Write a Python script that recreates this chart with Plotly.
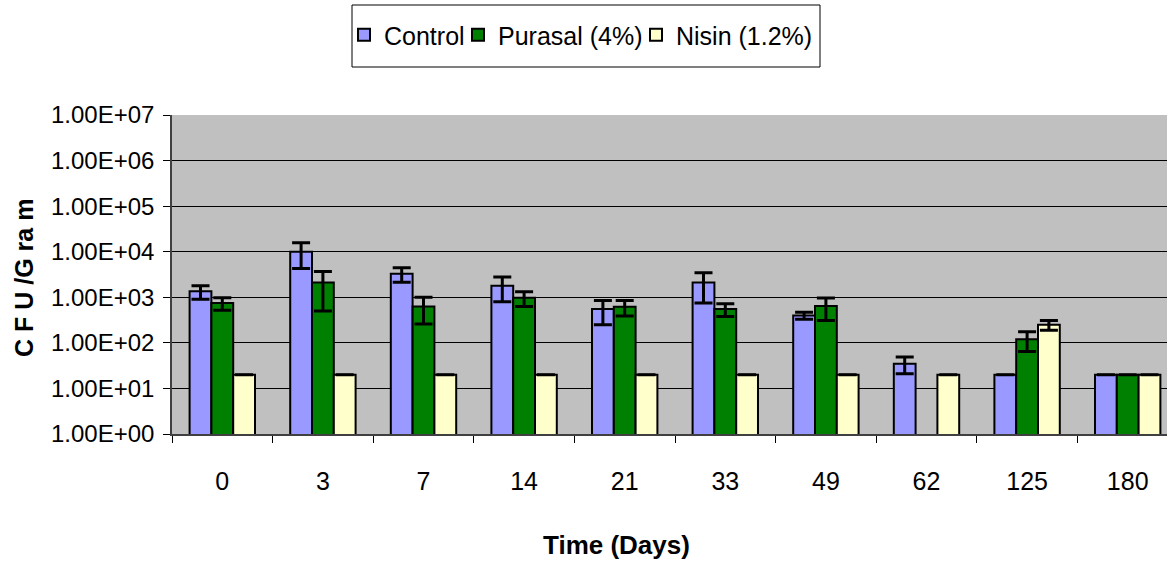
import plotly.graph_objects as go

# Sampling days (category labels on the x axis)
days = ["0", "3", "7", "14", "21", "33", "49", "62", "125", "180"]

# Mean counts (CFU per gram) and standard deviations for each treatment
control = [1350, 10000, 3300, 1800, 550, 2100, 400, 35, 20, 20]
control_err = [450, 5700, 1150, 1000, 300, 1350, 70, 14, 0, 0]

purasal = [750, 2100, 630, 980, 620, 550, 640, None, 120, 20]
purasal_err = [230, 1600, 370, 350, 230, 170, 330, None, 55, 0]

nisin = [20, 20, 20, 20, 20, 20, 20, 20, 250, 20]
nisin_err = [0, 0, 0, 0, 0, 0, 0, 0, 60, 0]

tick_vals = [1, 10, 100, 1000, 10000, 100000, 1000000, 10000000]
tick_text = ["1.00E+00", "1.00E+01", "1.00E+02", "1.00E+03",
             "1.00E+04", "1.00E+05", "1.00E+06", "1.00E+07"]

W, H = 1167, 562
M_L, M_R, M_T, M_B = 172, 0, 115, 128
PLOT_W = W - M_L - M_R
PLOT_H = H - M_T - M_B

FONT = "Liberation Sans, Arial, sans-serif"


def px_x(x):
    return (x - M_L) / PLOT_W


def px_y(y):
    return (H - M_B - y) / PLOT_H


# name, values, errors, fill colour, legend entry width
series = [
    ("Control", control, control_err, "#9999FF", 69),
    ("Purasal (4%)", purasal, purasal_err, "#008000", 133),
    ("Nisin (1.2%)", nisin, nisin_err, "#FFFFCC", 140),
]

fig = go.Figure()
for name, vals, errs, color, lw in series:
    fig.add_trace(go.Bar(
        name=name,
        x=days,
        y=vals,
        legendwidth=lw,
        marker=dict(color=color, line=dict(color="black", width=2)),
        error_y=dict(type="data", array=errs, visible=True,
                     color="black", thickness=3, width=9),
    ))

# category width in px -> visible x range (right edge clipped by the page)
cat_w = 100.6
x_hi = -0.5 + PLOT_W / cat_w

fig.update_layout(
    width=W, height=H,
    margin=dict(l=M_L, r=M_R, t=M_T, b=M_B),
    paper_bgcolor="white",
    plot_bgcolor="#C0C0C0",
    barmode="group",
    bargap=0.35,
    bargroupgap=0,
    font=dict(family=FONT, color="black"),
    showlegend=True,
    legend=dict(
        orientation="h",
        x=px_x(344), xanchor="left",
        y=px_y(35), yanchor="middle",
        bgcolor="rgba(0,0,0,0)",
        borderwidth=0,
        font=dict(size=25, family=FONT),
        itemclick=False,
        tracegroupgap=0,
    ),
    xaxis=dict(
        type="category",
        range=[-0.5, x_hi],
        showgrid=False,
        showline=True, linecolor="#404040", linewidth=1.5,
        ticks="outside", ticklen=7, tickcolor="black",
        tickson="boundaries",
        tickfont=dict(size=25, family=FONT),
        ticklabelstandoff=24,
        zeroline=False,
    ),
    yaxis=dict(
        type="log",
        range=[0, 7],
        tickvals=tick_vals,
        ticktext=tick_text,
        showgrid=True, gridcolor="black", gridwidth=1,
        showline=True, linecolor="#404040", linewidth=1.5,
        ticks="outside", ticklen=7, tickcolor="black",
        tickfont=dict(size=24, family=FONT),
        ticklabelstandoff=4,
        zeroline=False,
    ),
    annotations=[
        dict(text="<b>Time (Days)</b>", xref="paper", yref="paper",
             x=px_x(616), y=px_y(545), xanchor="center", yanchor="middle",
             showarrow=False, font=dict(size=26, family=FONT)),
        dict(text="<b>C F U /G ra m</b>", xref="paper", yref="paper",
             x=px_x(24), y=px_y(278), xanchor="center", yanchor="middle",
             textangle=-90, showarrow=False, font=dict(size=25, family=FONT)),
    ],
    shapes=[dict(
        type="rect", xref="paper", yref="paper",
        x0=px_x(352), x1=px_x(820), y0=px_y(67), y1=px_y(5),
        line=dict(color="black", width=1), fillcolor="rgba(0,0,0,0)",
        layer="above",
    )],
)

fig.write_html("out.html")
